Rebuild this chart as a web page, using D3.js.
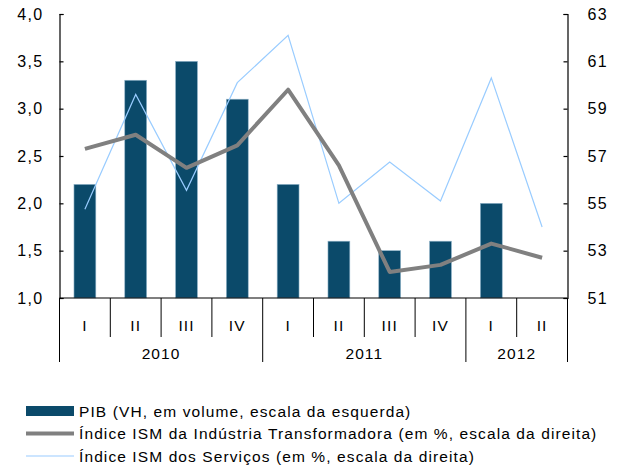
<!DOCTYPE html>
<html>
<head>
<meta charset="utf-8">
<script src="https://cdn.jsdelivr.net/npm/d3@7"></script>
<style>
  body { margin: 0; background: #fff; }
  text { font-family: "Liberation Sans", Arial, sans-serif; fill: #000; }
</style>
</head>
<body>
<div id="chart"></div>
<script>
// quarters and years
const quarters = ['I', 'II', 'III', 'IV', 'I', 'II', 'III', 'IV', 'I', 'II'];
const years = [
  {label: '2010', from: 0, to: 4},
  {label: '2011', from: 4, to: 8},
  {label: '2012', from: 8, to: 10}
];

// series
const pib = [2.2, 3.3, 3.5, 3.1, 2.2, 1.6, 1.5, 1.6, 2.0, null];
const ismIndustria = [57.3, 57.9, 56.5, 57.45, 59.8, 56.6, 52.1, 52.4, 53.3, 52.7];
const ismServicos = [54.75, 59.6, 55.55, 60.1, 62.1, 55.0, 56.75, 55.1, 60.3, 54.0];

// axis ticks
const leftTicks = [1.0, 1.5, 2.0, 2.5, 3.0, 3.5, 4.0];
const rightTicks = [51, 53, 55, 57, 59, 61, 63];

const legendLabels = [
  'PIB (VH, em volume, escala da esquerda)',
  'Índice ISM da Indústria Transformadora (em %, escala da direita)',
  'Índice ISM dos Serviços (em %, escala da direita)'
];

const W = 619, H = 469;
const margin = {top: 14, right: 52, bottom: 171, left: 59.5};
const width = 567.5 - margin.left;
const height = 298 - margin.top;

const svg = d3.select('#chart')
  .append('svg')
  .attr('width', W)
  .attr('height', H);

const g = svg.append('g')
  .attr('transform', 'translate(' + margin.left + ',' + margin.top + ')');

const x = d3.scaleBand()
  .domain(d3.range(quarters.length))
  .range([0, width])
  .padding(0);

const yL = d3.scaleLinear().domain([1, 4]).range([height, 0]);
const yR = d3.scaleLinear().domain([51, 63]).range([height, 0]);

// bars
const barW = x.bandwidth() * 0.43;
g.selectAll('rect.bar')
  .data(pib.map((v, i) => ({v: v, i: i})).filter(d => d.v != null))
  .enter()
  .append('rect')
  .attr('class', 'bar')
  .attr('x', d => x(d.i) + x.bandwidth() / 2 - barW / 2)
  .attr('y', d => yL(d.v))
  .attr('width', barW)
  .attr('height', d => yL(1) - yL(d.v))
  .attr('fill', '#0b4a6a')
  .attr('stroke', '#8fb3c8')
  .attr('stroke-width', 0.6);

// lines
const lineR = d3.line()
  .x((d, i) => x(i) + x.bandwidth() / 2)
  .y(d => yR(d));

g.append('path')
  .datum(ismServicos)
  .attr('d', lineR)
  .attr('fill', 'none')
  .attr('stroke', '#99ccff')
  .attr('stroke-width', 1.2);

g.append('path')
  .datum(ismIndustria)
  .attr('d', lineR)
  .attr('fill', 'none')
  .attr('stroke', '#808080')
  .attr('stroke-width', 4)
  .attr('stroke-linejoin', 'round');

// left axis
const axL = g.append('g')
  .call(d3.axisLeft(yL)
    .tickValues(leftTicks)
    .tickSize(-4)
    .tickPadding(16)
    .tickFormat(d => d3.format('.1f')(d).replace('.', ',')));

// right axis
const axR = g.append('g')
  .attr('transform', 'translate(' + width + ',0)')
  .call(d3.axisRight(yR)
    .tickValues(rightTicks)
    .tickSize(-4)
    .tickPadding(20));

[axL, axR].forEach(a => {
  a.select('.domain').attr('stroke', '#000').attr('stroke-width', 1.2);
  a.selectAll('.tick line').attr('stroke', '#000').attr('stroke-width', 1.2);
  a.selectAll('.tick text')
    .style('font-family', '"Liberation Sans", Arial, sans-serif')
    .style('font-size', '16px')
    .style('letter-spacing', '1.3px')
    .attr('fill', '#000');
});

// bottom axis line
g.append('line')
  .attr('x1', 0).attr('x2', width)
  .attr('y1', height).attr('y2', height)
  .attr('stroke', '#000').attr('stroke-width', 1.2);

// quarter separators
const quarterTickLen = 39;
const yearTickLen = 64;
const yearEdges = new Set([0, quarters.length]);
years.forEach(y => { yearEdges.add(y.from); yearEdges.add(y.to); });

g.selectAll('line.sep')
  .data(d3.range(quarters.length + 1))
  .enter()
  .append('line')
  .attr('class', 'sep')
  .attr('x1', i => i === quarters.length ? width : x(i))
  .attr('x2', i => i === quarters.length ? width : x(i))
  .attr('y1', height)
  .attr('y2', i => height + (yearEdges.has(i) ? yearTickLen : quarterTickLen))
  .attr('stroke', '#000')
  .attr('stroke-width', 1);

g.selectAll('text.q')
  .data(quarters)
  .enter()
  .append('text')
  .attr('class', 'q')
  .attr('x', (d, i) => x(i) + x.bandwidth() / 2)
  .attr('y', height + 32.5)
  .attr('text-anchor', 'middle')
  .style('font-size', '15.5px')
  .style('letter-spacing', '1.1px')
  .text(d => d);

g.selectAll('text.yr')
  .data(years)
  .enter()
  .append('text')
  .attr('class', 'yr')
  .attr('x', d => (x(d.from) + (d.to === quarters.length ? width : x(d.to))) / 2)
  .attr('y', height + 61)
  .attr('text-anchor', 'middle')
  .style('font-size', '15.5px')
  .style('letter-spacing', '1.1px')
  .text(d => d.label);

// legend
const legend = svg.append('g').attr('transform', 'translate(26,411)');
const rowH = 22.5;
legendLabels.forEach((lab, i) => {
  const row = legend.append('g').attr('transform', 'translate(0,' + i * rowH + ')');
  if (i === 0) {
    row.append('rect')
      .attr('x', 0).attr('y', -5).attr('width', 48).attr('height', 10)
      .attr('fill', '#0b4a6a');
  } else {
    row.append('line')
      .attr('x1', 0).attr('x2', 48).attr('y1', 0).attr('y2', 0)
      .attr('stroke', i === 1 ? '#808080' : '#99ccff')
      .attr('stroke-width', i === 1 ? 4 : 1.2);
  }
  row.append('text')
    .attr('x', 53)
    .attr('y', 5.5)
    .style('font-size', '15.5px')
    .style('letter-spacing', '1.1px')
    .text(lab);
});
</script>
</body>
</html>
